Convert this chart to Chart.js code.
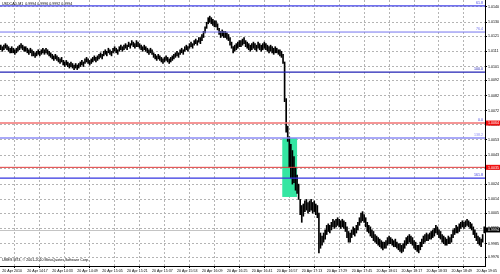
<!DOCTYPE html>
<html>
<head>
<meta charset="utf-8">
<script src="https://cdn.jsdelivr.net/npm/chart.js@4/dist/chart.umd.min.js"></script>
<style>
  html, body { margin: 0; padding: 0; background: #fff; overflow: hidden; }
  #wrap { width: 500px; height: 274px; }
</style>
</head>
<body>
<div id="wrap"><canvas id="chart" width="500" height="274"></canvas></div>
<script>
// ===== Chart data =====
const symbol = "USDCAD,M1";
const lastBar = [0.9994, 0.9996, 0.9992, 0.9994];      // O H L C of the current bar
const copyright = "UMES MT4, \u00a9 2001-2010 MetaQuotes Software Corp.";

const timeLabels = ["20 Apr 2010", "20 Apr 14:17", "20 Apr 14:33", "20 Apr 14:49", "20 Apr 15:05",
  "20 Apr 15:21", "20 Apr 15:37", "20 Apr 15:53", "20 Apr 16:09", "20 Apr 16:25", "20 Apr 16:41",
  "20 Apr 16:57", "20 Apr 17:13", "20 Apr 17:29", "20 Apr 17:45", "20 Apr 18:01", "20 Apr 18:17",
  "20 Apr 18:33", "20 Apr 18:49", "20 Apr 19:05"];

const priceTicks = [1.0140, 1.0130, 1.0121, 1.0111, 1.0101, 1.0092, 1.0082, 1.0072, 1.0063,
  1.0053, 1.0043, 1.0034, 1.0024, 1.0014, 1.0005, 0.9995, 0.9985, 0.9976];

// one M1 bar per entry
const highs = [
  1.0115,1.0114,1.0115,1.0116,1.0115,1.0114,1.0113,1.0114,1.0113,1.0112,1.0113,1.0114,1.0115,1.0116,1.0115,1.0114,
  1.0114,1.0113,1.0112,1.0113,1.0112,1.0111,1.0110,1.0111,1.0112,1.0111,1.0112,1.0113,1.0112,1.0113,1.0112,1.0111,
  1.0110,1.0109,1.0108,1.0109,1.0108,1.0107,1.0106,1.0107,1.0105,1.0104,1.0105,1.0104,1.0103,1.0104,1.0103,1.0102,
  1.0103,1.0102,1.0103,1.0104,1.0105,1.0104,1.0106,1.0107,1.0106,1.0105,1.0106,1.0107,1.0108,1.0107,1.0108,1.0109,
  1.0110,1.0109,1.0111,1.0112,1.0111,1.0113,1.0112,1.0111,1.0113,1.0114,1.0113,1.0112,1.0114,1.0115,1.0114,1.0115,
  1.0116,1.0115,1.0117,1.0116,1.0118,1.0117,1.0116,1.0118,1.0117,1.0116,1.0115,1.0114,1.0115,1.0114,1.0113,1.0112,
  1.0113,1.0112,1.0110,1.0109,1.0108,1.0109,1.0108,1.0107,1.0106,1.0107,1.0108,1.0107,1.0106,1.0107,1.0108,1.0109,
  1.0110,1.0111,1.0110,1.0112,1.0113,1.0112,1.0114,1.0115,1.0114,1.0116,1.0117,1.0116,1.0118,1.0119,1.0118,1.0120,
  1.0120,1.0122,1.0124,1.0127,1.0130,1.0133,1.0134,1.0133,1.0132,1.0131,1.0131,1.0129,1.0126,1.0124,1.0125,1.0124,
  1.0124,1.0123,1.0122,1.0120,1.0117,1.0114,1.0115,1.0116,1.0117,1.0118,1.0118,1.0119,1.0120,1.0118,1.0117,1.0116,
  1.0115,1.0116,1.0117,1.0116,1.0115,1.0117,1.0116,1.0115,1.0116,1.0117,1.0116,1.0115,1.0114,1.0115,1.0114,1.0113,
  1.0114,1.0113,1.0112,1.0112,1.0111,1.0109,1.0104,1.0080,1.0062,1.0055,1.0050,1.0046,1.0042,1.0035,1.0030,1.0024,
  1.0014,1.0010,1.0011,1.0013,1.0014,1.0012,1.0013,1.0014,1.0012,1.0013,1.0011,1.0010,1.0005,0.9992,0.9990,0.9992,
  0.9994,0.9997,0.9998,0.9997,0.9999,1.0001,1.0000,1.0001,1.0002,1.0001,1.0000,1.0001,1.0000,0.9999,0.9996,0.9993,
  0.9992,0.9994,0.9996,0.9995,0.9997,0.9999,1.0002,1.0005,1.0006,1.0004,1.0002,0.9999,0.9997,0.9996,0.9994,0.9993,
  0.9991,0.9990,0.9989,0.9988,0.9987,0.9986,0.9986,0.9987,0.9989,0.9990,0.9989,0.9988,0.9987,0.9988,0.9986,0.9985,
  0.9985,0.9984,0.9985,0.9987,0.9989,0.9990,0.9991,0.9990,0.9989,0.9987,0.9986,0.9984,0.9984,0.9986,0.9988,0.9990,
  0.9991,0.9992,0.9991,0.9992,0.9993,0.9994,0.9995,0.9997,0.9996,0.9994,0.9993,0.9991,0.9990,0.9989,0.9988,0.9990,
  0.9989,0.9991,0.9994,0.9995,0.9997,0.9996,0.9998,0.9999,1.0000,0.9999,1.0000,1.0001,1.0000,0.9999,0.9998,0.9996,
  0.9994,0.9992,0.9990,0.9989,0.9988,0.9991,0.9996
];
const lows = [
  1.0112,1.0111,1.0112,1.0113,1.0112,1.0111,1.0110,1.0110,1.0110,1.0109,1.0110,1.0111,1.0112,1.0113,1.0112,1.0111,
  1.0111,1.0110,1.0109,1.0110,1.0108,1.0108,1.0107,1.0108,1.0109,1.0108,1.0109,1.0110,1.0109,1.0110,1.0109,1.0108,
  1.0107,1.0106,1.0105,1.0106,1.0105,1.0104,1.0103,1.0104,1.0102,1.0101,1.0102,1.0101,1.0100,1.0101,1.0100,1.0099,
  1.0100,1.0099,1.0100,1.0101,1.0102,1.0101,1.0103,1.0104,1.0103,1.0102,1.0103,1.0104,1.0105,1.0104,1.0105,1.0106,
  1.0107,1.0106,1.0108,1.0109,1.0108,1.0110,1.0109,1.0108,1.0110,1.0111,1.0110,1.0109,1.0111,1.0112,1.0111,1.0112,
  1.0113,1.0112,1.0114,1.0113,1.0115,1.0114,1.0113,1.0114,1.0114,1.0113,1.0112,1.0111,1.0112,1.0111,1.0110,1.0109,
  1.0110,1.0109,1.0107,1.0106,1.0105,1.0106,1.0105,1.0104,1.0103,1.0104,1.0105,1.0104,1.0103,1.0104,1.0105,1.0106,
  1.0107,1.0108,1.0107,1.0109,1.0110,1.0109,1.0111,1.0112,1.0111,1.0113,1.0114,1.0113,1.0115,1.0116,1.0115,1.0117,
  1.0116,1.0118,1.0120,1.0123,1.0126,1.0129,1.0130,1.0129,1.0128,1.0127,1.0127,1.0125,1.0122,1.0120,1.0121,1.0120,
  1.0120,1.0119,1.0118,1.0115,1.0113,1.0110,1.0111,1.0112,1.0113,1.0114,1.0114,1.0115,1.0116,1.0114,1.0113,1.0112,
  1.0111,1.0112,1.0113,1.0112,1.0111,1.0113,1.0112,1.0111,1.0112,1.0113,1.0112,1.0111,1.0110,1.0111,1.0110,1.0109,
  1.0110,1.0110,1.0109,1.0108,1.0107,1.0103,1.0078,1.0058,1.0052,1.0035,1.0028,1.0024,1.0025,1.0020,1.0018,1.0014,
  1.0004,0.9999,1.0003,1.0006,1.0007,1.0005,1.0006,1.0007,1.0005,1.0006,1.0004,1.0002,0.9979,0.9982,0.9984,0.9986,
  0.9988,0.9991,0.9993,0.9992,0.9994,0.9996,0.9995,0.9996,0.9997,0.9996,0.9995,0.9996,0.9995,0.9993,0.9989,0.9986,
  0.9986,0.9989,0.9991,0.9990,0.9992,0.9994,0.9997,0.9999,1.0000,0.9999,0.9996,0.9993,0.9992,0.9990,0.9989,0.9987,
  0.9986,0.9985,0.9984,0.9983,0.9982,0.9981,0.9982,0.9982,0.9984,0.9985,0.9985,0.9984,0.9983,0.9983,0.9982,0.9981,
  0.9980,0.9979,0.9980,0.9982,0.9984,0.9985,0.9986,0.9985,0.9984,0.9982,0.9981,0.9980,0.9979,0.9981,0.9983,0.9985,
  0.9986,0.9987,0.9987,0.9988,0.9988,0.9989,0.9990,0.9992,0.9991,0.9989,0.9988,0.9986,0.9985,0.9984,0.9984,0.9985,
  0.9985,0.9986,0.9989,0.9991,0.9992,0.9992,0.9993,0.9995,0.9996,0.9995,0.9996,0.9997,0.9996,0.9995,0.9994,0.9991,
  0.9989,0.9987,0.9985,0.9984,0.9983,0.9986,0.9992
];

// fibo expansion levels, user lines and the highlighted box
const fibNames  = ["61.8", "76.4", "100.0", "138.2", "161.8"];
const fibPrices = [1.01407, 1.01236, 1.00974, 1.00542, 1.00280];
const redPrices = [1.0064, 1.0035];
const redNames  = ["0.0"];
const boxBars   = [180.5, 190];
const boxPrices = [1.00542, 1.00156];

// ===== Styles =====
const FONT = '3.6px "Liberation Sans"';
const fibColors = ["#4343ea", "#7575ee", "#2222b4", "#8c8cf6", "#3434e0"];
const fibWidths = [1.2, 1, 1.2, 1.6, 1.2];
const redColors = ["#f27272", "#e03a3a"];
const redWidths = [1.4, 1];

if (highs.length !== lows.length) console.error("bar arrays differ", highs.length, lows.length);

const bars = highs.map((h, i) => ({ x: i, y: [lows[i], h] }));

// ===== Objects drawn on top of the price chart =====
const mt4Objects = {
  id: "mt4Objects",
  beforeDatasetsDraw(chart) {
    const { ctx, chartArea: a, scales: { x, y } } = chart;
    ctx.save();
    // green box over the news spike
    const x1 = x.getPixelForValue(boxBars[0]), x2 = x.getPixelForValue(boxBars[1]);
    const y1 = y.getPixelForValue(boxPrices[0]), y2 = y.getPixelForValue(boxPrices[1]);
    ctx.fillStyle = "#34e6a2";
    ctx.fillRect(x1, y1, x2 - x1, y2 - y1);
    // bid line
    const by = Math.round(y.getPixelForValue(lastBar[3])) + 0.5;
    ctx.strokeStyle = "#c4c4c4";
    ctx.lineWidth = 1;
    ctx.beginPath(); ctx.moveTo(a.left, by); ctx.lineTo(a.right, by); ctx.stroke();
    ctx.restore();
  },
  afterDatasetsDraw(chart) {
    const { ctx, chartArea: a, scales: { y } } = chart;
    ctx.save();
    ctx.font = FONT;
    ctx.textAlign = "right";
    ctx.textBaseline = "bottom";
    redPrices.forEach((p, i) => {
      const py = y.getPixelForValue(p);
      ctx.strokeStyle = redColors[i];
      ctx.lineWidth = redWidths[i];
      ctx.beginPath(); ctx.moveTo(a.left, py); ctx.lineTo(a.right, py); ctx.stroke();
      if (redNames[i]) { ctx.fillStyle = "#3a3ae0"; ctx.fillText(redNames[i], a.right - 2, py - 1); }
    });
    fibPrices.forEach((p, i) => {
      const py = y.getPixelForValue(p);
      ctx.strokeStyle = fibColors[i];
      ctx.lineWidth = fibWidths[i];
      ctx.beginPath(); ctx.moveTo(a.left, py); ctx.lineTo(a.right, py); ctx.stroke();
      ctx.fillStyle = fibColors[i];
      ctx.fillText(fibNames[i], a.right - 2, py - 1);
    });
    ctx.restore();
  },
  afterDraw(chart) {
    const { ctx, chartArea: a, scales: { y } } = chart;
    ctx.save();
    ctx.font = FONT;
    ctx.textBaseline = "middle";
    ctx.textAlign = "left";
    ctx.fillStyle = "#000";
    ctx.fillText(symbol + "  " + lastBar.map(v => v.toFixed(4)).join(" "), 2, 3.5);
    ctx.fillText(copyright, 2, 260);
    // price boxes on the axis
    const box = (p, bg) => {
      const py = y.getPixelForValue(p);
      ctx.fillStyle = bg;
      ctx.fillRect(a.right + 1, py - 2.5, chart.width - a.right - 1, 5);
      ctx.fillStyle = "#fff";
      ctx.fillText(p.toFixed(4), a.right + 3, py + 0.2);
    };
    redPrices.forEach(p => box(p, "#f01010"));
    box(lastBar[3], "#000");
    ctx.restore();
  }
};

// ===== Chart.js Initialization =====
const ctx = document.getElementById("chart").getContext("2d");

const chart = new Chart(ctx, {
  type: "bar",
  data: {
    datasets: [{
      label: symbol,
      data: bars,
      backgroundColor: "#000",
      borderWidth: 0,
      barThickness: 1,
      grouped: false
    }]
  },
  options: {
    responsive: false,
    animation: false,
    layout: { padding: 0 },
    plugins: { legend: { display: false }, tooltip: { enabled: false } },
    scales: {
      x: {
        type: "linear",
        min: -0.5,
        max: highs.length - 0.5,
        offset: false,
        afterBuildTicks: s => { s.ticks = timeLabels.map((_, k) => ({ value: 1 + 16 * k })); },
        afterFit: s => { s.height = 8; s.paddingLeft = 0; s.paddingRight = 0; },
        ticks: {
          callback: (v, i) => timeLabels[i],
          font: { family: "Liberation Sans", size: 3.6 },
          color: "#000",
          align: "start",
          padding: 1,
          maxRotation: 0,
          minRotation: 0,
          autoSkip: false
        },
        grid: { color: "#b4b4b4", tickColor: "#000", tickLength: 2, lineWidth: 1 },
        border: { color: "#000", width: 1, dash: [2, 2] }
      },
      y: {
        position: "right",
        min: 0.997039,
        max: 1.014458,
        afterBuildTicks: s => { s.ticks = priceTicks.map(v => ({ value: v })); },
        afterFit: s => { s.width = 15; s.paddingTop = 0; s.paddingBottom = 0; },
        ticks: {
          callback: v => v.toFixed(4),
          font: { family: "Liberation Sans", size: 3.6 },
          color: "#000",
          padding: 1
        },
        grid: { color: "#b4b4b4", tickColor: "#000", tickLength: 2, lineWidth: 1 },
        border: { color: "#000", width: 1, dash: [2, 2] }
      }
    }
  },
  plugins: [mt4Objects]
});
</script>
</body>
</html>
